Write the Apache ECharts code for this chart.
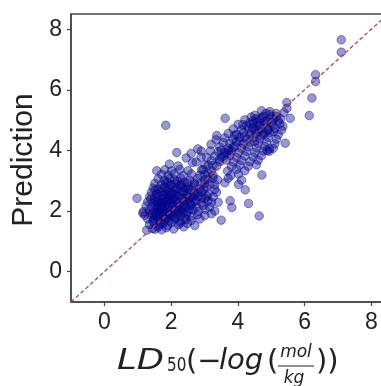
<!DOCTYPE html>
<html>
<head>
<meta charset="utf-8">
<script src="https://cdn.jsdelivr.net/npm/echarts@6/dist/echarts.min.js"></script>
<style>html,body{margin:0;padding:0;background:#fff;}#c{width:381px;height:386px;}</style>
</head>
<body>
<div id="c"></div>
<script>
// Tick labels
var xTicks = [0, 2, 4, 6, 8];
var yTicks = [0, 2, 4, 6, 8];
var axisRange = [-1, 8.5];

// Lower cluster: [measured LD50, prediction]
var lowerCluster = [
[1.27,1.37],[1.44,1.42],[1.52,1.40],[1.61,1.47],[1.72,1.38],[1.86,1.45],[2.08,1.41],[2.38,1.48],
[1.35,1.56],[1.49,1.60],[1.63,1.53],[1.76,1.58],[1.90,1.52],[2.01,1.62],[2.22,1.55],[2.49,1.59],[2.71,1.52],
[1.30,1.74],[1.46,1.68],[1.58,1.75],[1.69,1.70],[1.83,1.77],[1.95,1.68],[2.10,1.73],[2.26,1.67],[2.41,1.76],[2.60,1.69],[2.86,1.74],[3.50,1.70],
[1.21,1.86],[1.39,1.88],[1.53,1.83],[1.66,1.90],[1.77,1.84],[1.91,1.89],[2.03,1.82],[2.16,1.88],[2.29,1.84],[2.46,1.90],[2.61,1.83],[2.79,1.88],[3.01,1.85],[3.21,1.91],[4.64,1.84],
[1.15,1.93],[1.17,1.98],[1.34,2.03],[1.47,1.98],[1.61,2.04],[1.73,1.97],[1.84,2.05],[1.98,2.00],[2.11,2.05],[2.21,1.98],[2.36,2.03],[2.51,1.98],[2.66,2.04],[2.81,1.99],[3.02,2.05],[3.31,2.00],
[1.25,2.17],[1.41,2.13],[1.54,2.19],[1.67,2.12],[1.81,2.18],[1.93,2.13],[2.06,2.19],[2.17,2.12],[2.31,2.17],[2.44,2.13],[2.59,2.19],[2.76,2.14],[2.96,2.18],[3.16,2.13],[3.82,2.12],
[1.30,2.31],[1.46,2.28],[1.59,2.33],[1.72,2.27],[1.87,2.32],[1.99,2.28],[2.13,2.34],[2.26,2.27],[2.39,2.33],[2.56,2.28],[2.71,2.32],[2.91,2.27],[3.11,2.33],[3.41,2.29],[3.77,2.34],[4.32,2.25],
[0.98,2.42],[1.36,2.47],[1.51,2.43],[1.64,2.48],[1.79,2.42],[1.91,2.47],[2.04,2.43],[2.16,2.49],[2.31,2.42],[2.46,2.47],[2.63,2.43],[2.81,2.48],[3.01,2.42],[3.26,2.47],
[1.41,2.61],[1.56,2.58],[1.69,2.63],[1.86,2.57],[1.97,2.62],[2.11,2.58],[2.24,2.63],[2.41,2.57],[2.54,2.62],[2.73,2.58],[2.91,2.63],[3.11,2.57],[3.36,2.62],[4.22,2.70],
[1.46,2.76],[1.61,2.73],[1.79,2.78],[1.93,2.72],[2.06,2.77],[2.19,2.73],[2.36,2.78],[2.51,2.72],[2.67,2.77],[2.86,2.73],[3.06,2.78],[3.31,2.72],
[1.51,2.91],[1.71,2.88],[1.84,2.93],[2.01,2.87],[2.14,2.92],[2.31,2.88],[2.49,2.93],[2.71,2.87],[2.89,2.92],[3.16,2.88],
[1.61,3.06],[1.79,3.02],[1.96,3.07],[2.11,3.03],[2.29,3.08],[2.56,3.02],[2.79,3.07],[3.01,3.03],[3.26,3.08],
[1.71,3.21],[1.91,3.18],[2.09,3.23],[2.36,3.17],[2.61,3.22],[2.86,3.18],[3.11,3.23],
[1.57,3.33],[1.81,3.36],[2.01,3.32],[2.26,3.37],[2.51,3.33],[2.91,3.36],
[1.95,3.55],[2.21,3.49],[2.64,3.60],[3.01,3.52],
[1.55,1.95],[1.70,2.08],[1.88,2.23],[2.02,2.36],[2.20,2.52],[2.35,2.66],[1.62,2.25],[1.78,2.38],[1.95,2.52],[2.12,2.68],[2.28,2.84],
[1.90,1.78],[2.05,1.93],[2.22,2.08],[2.38,2.22],[2.52,2.38],[2.68,2.52],[1.68,1.62],[1.82,1.95],[2.45,1.72],[2.60,2.20],[2.75,2.35],[1.52,2.70],[1.98,2.85],[2.40,2.95],
[1.48,1.72],[1.57,1.88],[1.66,2.01],[1.74,2.15],[1.83,2.29],[1.92,2.41],[2.00,2.55],[1.59,2.12],[1.69,2.29],[1.76,2.52],[1.86,2.66],[2.07,2.22],[2.15,2.37],[2.24,1.95],[2.33,2.12],[2.43,2.41],[2.48,2.55],[2.57,2.71],
[1.43,1.92],[1.52,2.31],[1.64,1.79],[1.79,1.66],[1.96,1.93],[2.13,1.79],[2.28,1.61],[2.36,1.94],[2.55,2.07],[2.64,2.47],[2.81,2.61],[2.92,2.43],[1.39,2.39],[1.58,2.56],[1.73,2.74],[1.89,2.96],[2.19,2.98],[2.44,2.78],[2.69,2.93],[2.97,2.71],[3.08,2.49],[3.21,2.29]
];

// Upper cluster
var upperCluster = [
[3.01,2.91],[3.31,2.87],[3.61,2.93],[4.02,2.88],
[3.11,3.06],[3.39,3.03],[3.71,3.08],[4.11,3.02],
[3.01,3.21],[3.26,3.18],[3.79,3.17],[4.02,3.22],[4.72,3.19],
[2.96,3.36],[3.21,3.33],[3.69,3.32],[3.96,3.38],[4.21,3.33],
[3.11,3.51],[3.36,3.48],[3.81,3.47],[4.06,3.52],[4.31,3.48],[4.56,3.53],
[3.21,3.66],[3.46,3.63],[3.66,3.68],[3.86,3.62],[4.11,3.67],[4.36,3.63],[4.61,3.68],
[2.45,3.75],[2.75,3.62],[2.90,3.78],[3.07,3.77],[3.31,3.81],[3.51,3.78],[3.76,3.83],[3.96,3.77],[4.21,3.82],[4.46,3.78],[4.71,3.83],
[2.17,3.93],[2.60,3.90],[2.90,3.98],[3.17,3.98],[3.41,3.96],[3.61,3.93],[3.81,3.98],[4.01,3.92],[4.26,3.97],[4.51,3.93],[4.76,3.98],[4.94,3.97],
[2.80,4.05],[3.46,4.11],[3.71,4.08],[3.91,4.13],[4.11,4.07],[4.31,4.12],[4.56,4.08],[4.81,4.13],[5.06,4.07],
[3.20,4.20],[3.56,4.26],[3.76,4.23],[3.96,4.28],[4.16,4.22],[4.36,4.27],[4.61,4.23],[4.86,4.28],[5.11,4.22],[5.42,4.24],
[3.35,4.35],[3.61,4.41],[3.86,4.38],[4.06,4.43],[4.26,4.37],[4.46,4.42],[4.66,4.38],[4.91,4.43],[5.16,4.37],
[3.37,4.49],[3.71,4.56],[3.96,4.53],[4.16,4.58],[4.36,4.52],[4.56,4.57],[4.76,4.53],[4.96,4.58],[5.21,4.52],
[3.86,4.71],[4.11,4.68],[4.31,4.73],[4.51,4.67],[4.71,4.72],[4.91,4.68],[5.11,4.73],[5.31,4.67],
[4.01,4.86],[4.26,4.83],[4.46,4.88],[4.66,4.82],[4.86,4.87],[5.06,4.83],[5.26,4.88],
[4.21,5.01],[4.46,4.98],[4.66,5.03],[4.86,4.97],[5.06,5.02],[5.21,4.98],
[4.51,5.16],[4.76,5.13],[4.96,5.18],[5.16,5.12],
[4.71,5.31],[4.96,5.28],[5.57,5.06],[5.47,5.39],[5.47,5.58],[3.62,5.06],
[4.40,4.60],[4.60,4.80],[4.80,4.95],[5.00,5.10],[4.20,4.45],[4.50,4.30],[4.70,4.50],[4.90,4.70],[4.35,4.90],[4.55,5.05],[4.05,4.30],[3.85,4.10],[3.65,3.90],[3.45,3.70],[3.25,3.50],
[4.58,4.92],[4.72,5.08],[4.84,5.22],[5.02,4.92],[5.15,5.22],[5.28,5.05],[4.62,4.64],[4.44,4.74],[4.82,4.58],[5.08,4.62],[3.72,4.00],[3.58,3.82],[4.88,4.00],[4.95,4.05],[3.90,4.50],[4.15,4.85],[5.35,4.80],[5.38,5.25],[4.40,5.10],[3.50,4.00]
];

// Isolated points
var outliers = [
[1.84,4.83],[6.14,5.15],[6.22,5.73],[6.33,6.27],[6.33,6.50],[7.10,7.24],[7.10,7.65]
];

var diagonal = [[-1,-1],[8.5,8.5]];

var chart = echarts.init(document.getElementById('c'), null, {renderer:'canvas'});
var axisColor = '#444';
var tickFont = {fontFamily:'Liberation Sans', fontSize:23, color:'#222'};
var pointStyle = {color:'rgba(0,0,139,0.5)', borderColor:'rgba(0,0,139,0.55)', borderWidth:1};
function scatter(d){
  return {type:'scatter', data:d, symbolSize:8.5, itemStyle:pointStyle, silent:true, z:2};
}
chart.setOption({
  animation:false,
  grid:{left:71, top:14, right:-7, bottom:84, containLabel:false, outerBoundsMode:'none',
        show:true, borderColor:axisColor, borderWidth:1.5, backgroundColor:'transparent'},
  xAxis:{type:'value', min:axisRange[0], max:axisRange[1],
    axisLine:{show:true, onZero:false, lineStyle:{color:axisColor, width:1.5}},
    axisTick:{show:true, length:4, lineStyle:{color:axisColor, width:1.2}, customValues:xTicks},
    axisLabel:Object.assign({margin:9, customValues:xTicks}, tickFont),
    splitLine:{show:false}},
  yAxis:{type:'value', min:axisRange[0], max:axisRange[1],
    axisLine:{show:true, onZero:false, lineStyle:{color:axisColor, width:1.5}},
    axisTick:{show:true, length:4, lineStyle:{color:axisColor, width:1.2}, customValues:yTicks},
    axisLabel:Object.assign({margin:9, customValues:yTicks}, tickFont),
    splitLine:{show:false}},
  series:[
    scatter(lowerCluster), scatter(upperCluster), scatter(outliers),
    {type:'line', data:diagonal, symbol:'none', silent:true, z:5,
     lineStyle:{color:'#b5474a', width:1.3, type:[4,2.5]}}
  ],
  graphic:[
    {type:'text', x:24, y:160, rotation:Math.PI/2,
     style:{text:'Prediction', font:'30px "Liberation Sans"', fill:'#222', align:'center', verticalAlign:'middle'}},
    {type:'text', x:117, y:361, scaleX:1.22, style:{text:'LD', font:'italic 29px "DejaVu Sans"', fill:'#222', align:'left', verticalAlign:'middle'}},
    {type:'text', x:167, y:366, scaleX:0.8, style:{text:'50', font:'19px "DejaVu Sans"', fill:'#222', align:'left', verticalAlign:'middle'}},
    {type:'text', x:186, y:362, style:{text:'(\u2212', font:'29px "DejaVu Sans"', fill:'#222', align:'left', verticalAlign:'middle'}},
    {type:'text', x:219, y:361, style:{text:'log', font:'italic 29px "DejaVu Sans"', fill:'#222', align:'left', verticalAlign:'middle'}},
    {type:'text', x:267, y:362, style:{text:'(', font:'29px "DejaVu Sans"', fill:'#222', align:'left', verticalAlign:'middle'}},
    {type:'text', x:296, y:353, style:{text:'mol', font:'italic 17px "DejaVu Sans"', fill:'#222', align:'center', verticalAlign:'middle'}},
    {type:'line', shape:{x1:278, y1:366, x2:314, y2:366}, style:{stroke:'#222', lineWidth:1.2}},
    {type:'text', x:294, y:379, style:{text:'kg', font:'italic 17px "DejaVu Sans"', fill:'#222', align:'center', verticalAlign:'middle'}},
    {type:'text', x:316, y:362, style:{text:'))', font:'29px "DejaVu Sans"', fill:'#222', align:'left', verticalAlign:'middle'}}
  ]
});
</script>
</body>
</html>
